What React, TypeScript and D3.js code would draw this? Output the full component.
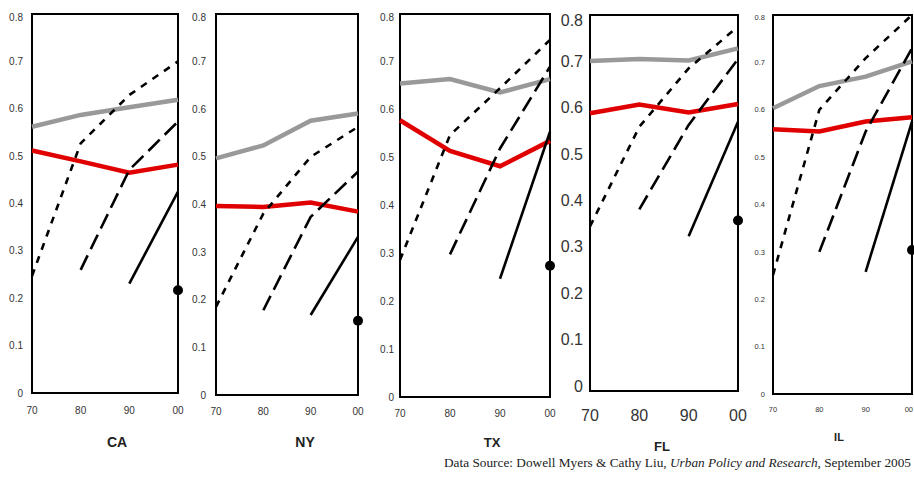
import React from "react";
import * as d3 from "d3";

// ---------- data ----------
const years = ["70", "80", "90", "00"];
const states = ["CA", "NY", "TX", "FL", "IL"];
const yTicks = [0, 0.1, 0.2, 0.3, 0.4, 0.5, 0.6, 0.7, 0.8];

// gray line (all years)
const grayLine = [
  [0.562, 0.587, 0.603, 0.619],
  [0.497, 0.524, 0.576, 0.591],
  [0.655, 0.664, 0.636, 0.664],
  [0.701, 0.705, 0.702, 0.728],
  [0.603, 0.65, 0.67, 0.702],
];
// red line (all years)
const redLine = [
  [0.512, 0.489, 0.465, 0.482],
  [0.397, 0.395, 0.404, 0.385],
  [0.578, 0.514, 0.482, 0.535],
  [0.588, 0.607, 0.59, 0.608],
  [0.559, 0.554, 0.575, 0.584],
];
// dotted cohort, 70 -> 00
const cohort70 = [
  [0.247, 0.527, 0.629, 0.7],
  [0.185, 0.381, 0.5, 0.563],
  [0.286, 0.547, 0.645, 0.746],
  [0.344, 0.559, 0.685, 0.775],
  [0.251, 0.6, 0.709, 0.8],
];
// long dashed cohort, 80 -> 00
const cohort80 = [
  [0.26, 0.471, 0.573],
  [0.178, 0.374, 0.469],
  [0.298, 0.519, 0.69],
  [0.381, 0.563, 0.705],
  [0.3, 0.554, 0.73],
];
// solid cohort, 90 -> 00
const cohort90 = [
  [0.231, 0.425],
  [0.168, 0.332],
  [0.247, 0.554],
  [0.323, 0.57],
  [0.258, 0.575],
];
// single point, 00
const cohort00 = [0.217, 0.156, 0.274, 0.357, 0.304];

const sourceText = "Data Source: Dowell Myers & Cathy Liu, ";
const sourceJournal = "Urban Policy and Research";
const sourceDate = ", September 2005";

// ---------- layout ----------
type Layout = {
  x0: number; x1: number; top: number; bottom: number; scaleBottom: number;
  font: number; labelGap: number; xLabelY: number;
  titleX: number; titleY: number; titleFont: number;
};
const layouts: Layout[] = [
  { x0: 32, x1: 178, top: 14, bottom: 393, scaleBottom: 393, font: 10, labelGap: 9, xLabelY: 414, titleX: 117, titleY: 447, titleFont: 14 },
  { x0: 216, x1: 358, top: 14, bottom: 395, scaleBottom: 395, font: 10, labelGap: 10, xLabelY: 415, titleX: 305, titleY: 447, titleFont: 14 },
  { x0: 400, x1: 550, top: 14, bottom: 397, scaleBottom: 397, font: 10, labelGap: 6, xLabelY: 417, titleX: 492, titleY: 447, titleFont: 13 },
  { x0: 590, x1: 738, top: 15, bottom: 391, scaleBottom: 386, font: 16, labelGap: 7, xLabelY: 421, titleX: 662, titleY: 451, titleFont: 13 },
  { x0: 773, x1: 912, top: 15, bottom: 394, scaleBottom: 394, font: 7.5, labelGap: 8, xLabelY: 412, titleX: 839, titleY: 441, titleFont: 11 },
];

const FONT = "'Liberation Sans', Arial, Helvetica, sans-serif";
const WIDTH = 914;

function Panel({ i }: { i: number }) {
  const L = layouts[i];
  const x = d3.scalePoint<string>().domain(years).range([L.x0, L.x1]);
  const y = d3.scaleLinear().domain([0, 0.8]).range([L.scaleBottom, L.top]);
  const line = d3
    .line<[string, number]>()
    .x((d) => x(d[0]) as number)
    .y((d) => y(d[1]));
  const pairs = (vals: number[]) =>
    vals.map((v, k) => [years[years.length - vals.length + k], v] as [string, number]);

  return (
    <g>
      <rect x={L.x0} y={L.top} width={L.x1 - L.x0} height={L.bottom - L.top} fill="none" stroke="#000" strokeWidth={2} />
      {yTicks.map((t) => (
        <text
          key={t}
          x={L.x0 - L.labelGap}
          y={Math.max(y(t), L.top + L.font * 0.35)}
          dy="0.35em"
          textAnchor="end"
          fontFamily={FONT}
          fontSize={L.font}
          fill="#333"
        >
          {t === 0 ? "0" : d3.format(".1f")(t)}
        </text>
      ))}
      {years.map((yr) => (
        <text
          key={yr}
          x={Math.min(x(yr) as number, WIDTH - 1 - L.font * 0.56)}
          y={L.xLabelY}
          textAnchor="middle"
          fontFamily={FONT}
          fontSize={L.font}
          fill="#333"
        >
          {yr}
        </text>
      ))}
      <text x={L.titleX} y={L.titleY} textAnchor="middle" fontFamily={FONT} fontWeight="bold" fontSize={L.titleFont} fill="#222">
        {states[i]}
      </text>
      <path d={line(pairs(grayLine[i])) || ""} fill="none" stroke="#999" strokeWidth={4.5} />
      <path d={line(pairs(redLine[i])) || ""} fill="none" stroke="#e00000" strokeWidth={4.5} />
      <path d={line(pairs(cohort70[i])) || ""} fill="none" stroke="#000" strokeWidth={2.6} strokeDasharray="7 7" strokeLinejoin="round" />
      <path d={line(pairs(cohort80[i])) || ""} fill="none" stroke="#000" strokeWidth={2.6} strokeDasharray="16 7" strokeLinejoin="round" />
      <path d={line(pairs(cohort90[i])) || ""} fill="none" stroke="#000" strokeWidth={2.6} strokeLinejoin="round" />
      <circle cx={x("00")} cy={y(cohort00[i])} r={5} fill="#000" />
    </g>
  );
}

export default function App() {
  return (
    <svg width={WIDTH} height={483} style={{ position: "absolute", left: 0, top: 0, background: "#fff" }}>
      <rect width={WIDTH} height={483} fill="#fff" />
      {states.map((s, i) => (
        <Panel key={s} i={i} />
      ))}
      <text x={911} y={467} textAnchor="end" fontFamily="'Liberation Serif', 'Times New Roman', serif" fontSize={13.3} fill="#222">
        {sourceText}
        <tspan fontStyle="italic">{sourceJournal}</tspan>
        {sourceDate}
      </text>
    </svg>
  );
}
